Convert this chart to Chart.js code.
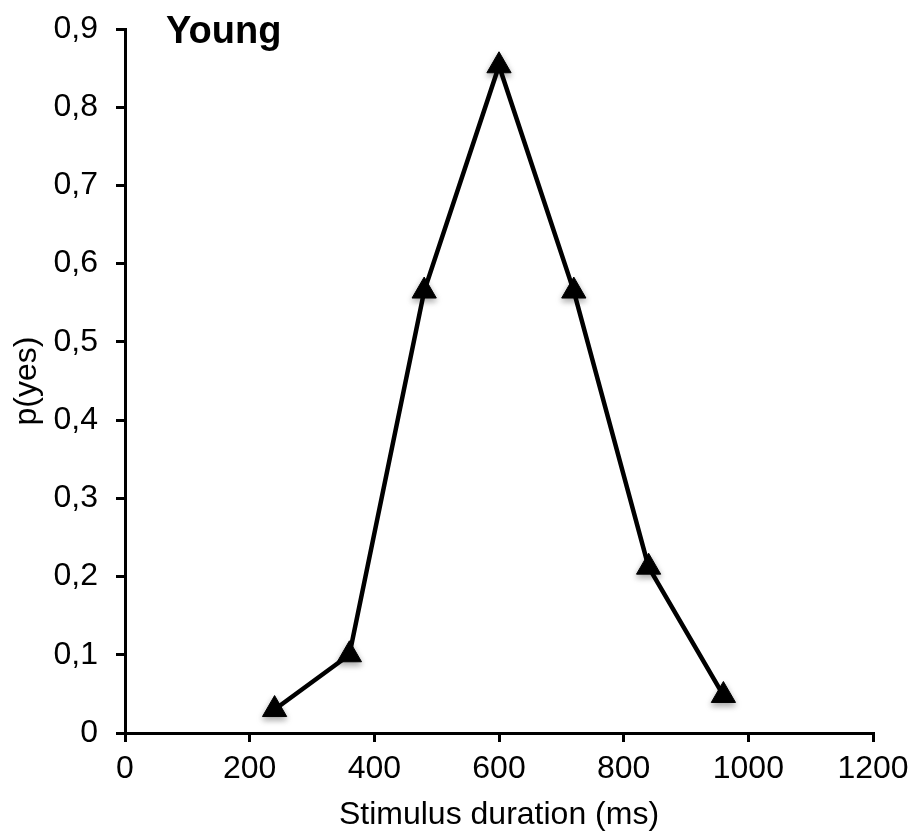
<!DOCTYPE html>
<html>
<head>
<meta charset="utf-8">
<script src="https://cdn.jsdelivr.net/npm/chart.js@4"></script>
<style>
  html, body { margin: 0; padding: 0; background: #fff; }
</style>
</head>
<body>
<canvas id="durChart" width="911" height="836"></canvas>
<script>
const durations = [240, 360, 480, 600, 720, 840, 960];
const pYes = [0.03, 0.10, 0.565, 0.853, 0.565, 0.212, 0.048];
const xTicks = [0, 200, 400, 600, 800, 1000, 1200];
const yTicks = [0, 0.1, 0.2, 0.3, 0.4, 0.5, 0.6, 0.7, 0.8, 0.9];
const panelTitle = 'Young';

const fontFam = '"Liberation Sans", Arial, sans-serif';
const pts = durations.map((d, i) => ({ x: d, y: pYes[i] }));

// title "Young" sits inside the plot area, top left
const panelLabel = {
    id: 'panelLabel',
    afterDraw(chart) {
        const c = chart.ctx;
        c.save();
        c.fillStyle = '#000';
        c.font = 'bold 38px ' + fontFam;
        c.textAlign = 'left';
        c.textBaseline = 'alphabetic';
        c.fillText(panelTitle, chart.chartArea.left + 41, 43);
        c.restore();
    }
};

// soft shadow under the markers only (dataset 1)
const markerShadow = {
    id: 'markerShadow',
    beforeDatasetDraw(chart, args) {
        if (args.index !== 1) return;
        const c = chart.ctx;
        c.save();
        c.shadowColor = 'rgba(0,0,0,0.35)';
        c.shadowBlur = 6;
        c.shadowOffsetX = 0;
        c.shadowOffsetY = 3;
    },
    afterDatasetDraw(chart, args) {
        if (args.index !== 1) return;
        chart.ctx.restore();
    }
};

const ctx = document.getElementById('durChart').getContext('2d');
const myChart = new Chart(ctx, {
    type: 'line',
    data: {
        datasets: [{
            label: 'Young',
            data: pts,
            borderColor: '#000',
            borderWidth: 4.5,
            pointRadius: 0,
            tension: 0,
            order: 2
        }, {
            label: 'Young markers',
            data: pts,
            showLine: false,
            pointStyle: 'triangle',
            pointRadius: 14,
            pointBorderWidth: 1,
            pointBackgroundColor: '#000',
            pointBorderColor: '#000',
            order: 1
        }]
    },
    options: {
        responsive: false,
        animation: false,
        devicePixelRatio: 1,
        layout: { padding: { top: 29, right: 38, left: 0, bottom: 0 } },
        plugins: {
            legend: { display: false },
            tooltip: { enabled: false }
        },
        scales: {
            x: {
                type: 'linear',
                min: 0,
                max: 1200,
                afterFit(scale) {
                    scale.height = 103;
                    scale.paddingLeft = 0;
                    scale.paddingRight = 0;
                },
                afterBuildTicks(scale) { scale.ticks = xTicks.map(v => ({ value: v })); },
                border: { display: true, color: '#000', width: 3 },
                grid: { display: true, drawOnChartArea: false, drawTicks: true, tickLength: 9, color: '#000', lineWidth: 3 },
                ticks: {
                    color: '#000',
                    font: { family: fontFam, size: 32 },
                    padding: 8,
                    maxRotation: 0,
                    callback: v => String(v)
                },
                title: {
                    display: true,
                    text: 'Stimulus duration (ms)',
                    color: '#000',
                    font: { family: fontFam, size: 32 },
                    padding: { top: 0, bottom: 2 }
                }
            },
            y: {
                min: 0,
                max: 0.9,
                afterFit(scale) {
                    scale.width = 125;
                    scale.paddingTop = 0;
                    scale.paddingBottom = 0;
                },
                afterBuildTicks(scale) { scale.ticks = yTicks.map(v => ({ value: v })); },
                border: { display: true, color: '#000', width: 3 },
                grid: { display: true, drawOnChartArea: false, drawTicks: true, tickLength: 9, color: '#000', lineWidth: 3 },
                ticks: {
                    color: '#000',
                    font: { family: fontFam, size: 32 },
                    padding: 18,
                    callback: v => v === 0 ? '0' : v.toFixed(1).replace('.', ',')
                },
                title: {
                    display: true,
                    text: 'p(yes)',
                    color: '#000',
                    font: { family: fontFam, size: 32 },
                    padding: { top: 8, bottom: 0 }
                }
            }
        }
    },
    plugins: [panelLabel, markerShadow]
});
</script>
</body>
</html>
